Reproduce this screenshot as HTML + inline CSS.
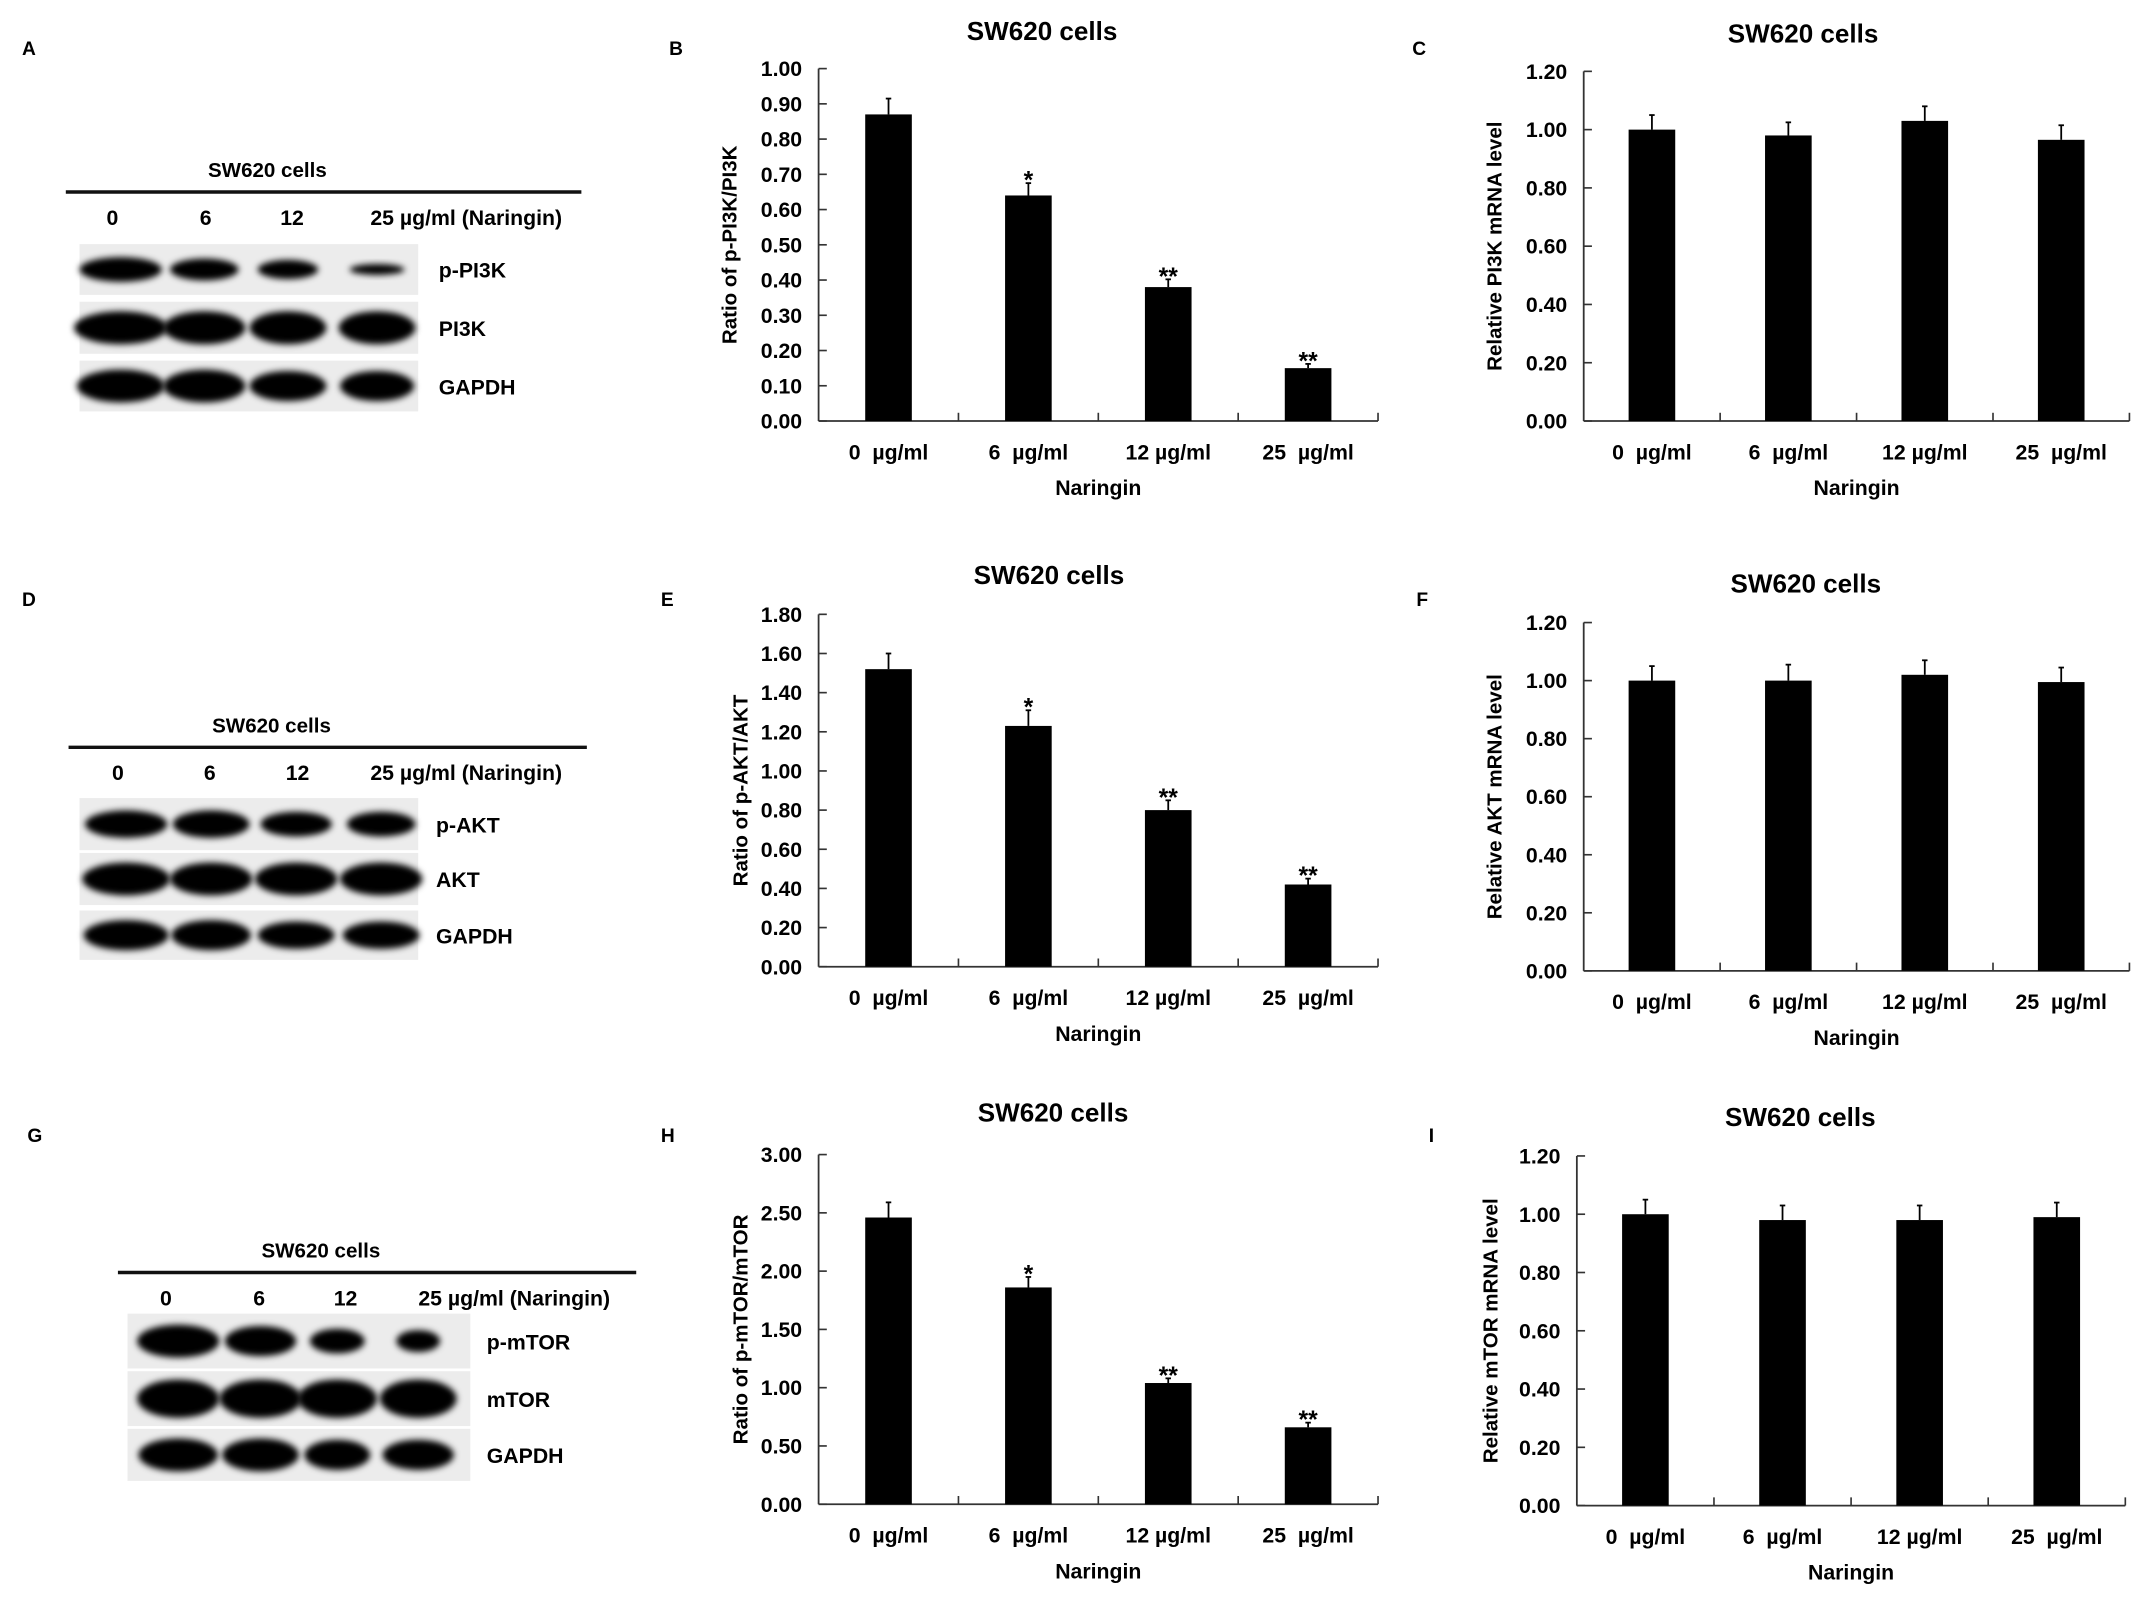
<!DOCTYPE html>
<html><head><meta charset="utf-8"><style>
html,body{margin:0;padding:0;background:#fff;}
svg{display:block;font-family:"Liberation Sans",Arial,sans-serif;font-weight:bold;}
</style></head><body>
<svg id="fig" width="2150" height="1603" viewBox="0 0 1568 1169" xmlns="http://www.w3.org/2000/svg">
<defs><filter id="blur" x="-20%" y="-50%" width="140%" height="200%"><feGaussianBlur stdDeviation="2.4"/></filter></defs>
<g id="blots"></g>
<g id="charts"></g>
</svg>
<script>
const NS='http://www.w3.org/2000/svg';
const fig=document.getElementById('fig');
const categories=['0\u00a0\u00a0µg/ml','6\u00a0\u00a0µg/ml','12 µg/ml','25\u00a0\u00a0µg/ml'];
const valuesB=[0.87,0.64,0.38,0.15], errB=[0.045,0.035,0.022,0.012], sigB=['','*','**','**'];
const valuesC=[1.00,0.98,1.03,0.965], errC=[0.05,0.045,0.05,0.05];
const valuesE=[1.52,1.23,0.80,0.42], errE=[0.08,0.08,0.05,0.03], sigE=['','*','**','**'];
const valuesF=[1.00,1.00,1.02,0.995], errF=[0.05,0.055,0.05,0.05];
const valuesH=[2.46,1.86,1.04,0.66], errH=[0.13,0.09,0.04,0.04], sigH=['','*','**','**'];
const valuesI=[1.00,0.98,0.98,0.99], errI=[0.05,0.05,0.05,0.05];
const ticksB=['0.00','0.10','0.20','0.30','0.40','0.50','0.60','0.70','0.80','0.90','1.00'];
const ticksRel=['0.00','0.20','0.40','0.60','0.80','1.00','1.20'];
const ticksE=['0.00','0.20','0.40','0.60','0.80','1.00','1.20','1.40','1.60','1.80'];
const ticksH=['0.00','0.50','1.00','1.50','2.00','2.50','3.00'];

function el(tag,attrs,parent,text){const e=document.createElementNS(NS,tag);for(const k in attrs)e.setAttribute(k,attrs[k]);if(text!==undefined)e.textContent=text;(parent||fig).appendChild(e);return e;}

function chart(o){
  const g=el('g',{},document.getElementById('charts'));
  
  
  const tmax=parseFloat(o.ticks[o.ticks.length-1]);
  const ys=v=>o.y0-(v/tmax)*(o.y0-o.yTop);
  const w=o.x1-o.x0, cw=w/o.values.length;
  const xs=i=>o.x0+cw*(i+0.5);
  const L=el('text',{x:o.letterX,y:o.letterY,'font-size':14},g,o.letter);
  
  const t=el('text',{x:o.titleX,y:o.titleY,'font-size':19,'text-anchor':'middle'},g,'SW620 cells');
  
  el('line',{x1:o.x0,y1:o.yTop,x2:o.x0,y2:o.y0,stroke:'#333','stroke-width':1.3},g);
  el('line',{x1:o.x0,y1:o.y0,x2:o.x1,y2:o.y0,stroke:'#333','stroke-width':1.3},g);
  o.ticks.forEach(tk=>{const y=ys(parseFloat(tk));
    el('line',{x1:o.x0,y1:y,x2:o.x0+6,y2:y,stroke:'#333','stroke-width':1.2},g);
    const tl=el('text',{x:o.x0-12,y:y+5.5,'font-size':15.5,'text-anchor':'end'},g,tk);
    });
  for(let i=1;i<=o.values.length;i++){const x=o.x0+cw*i;el('line',{x1:x,y1:o.y0,x2:x,y2:o.y0-6,stroke:'#333','stroke-width':1.2},g);}
  o.values.forEach((v,i)=>{const x=xs(i),bw=34;
    const top=ys(v+o.err[i]);
    el('line',{x1:x,y1:ys(v),x2:x,y2:top,stroke:'#000','stroke-width':1.3},g);
    el('line',{x1:x-2,y1:top,x2:x+2,y2:top,stroke:'#000','stroke-width':1.3},g);
    const b=el('rect',{x:x-bw/2,y:ys(v),width:bw,height:o.y0-ys(v),fill:'#000'},g);
    
    if(o.sig&&o.sig[i]){const s=el('text',{x:x,y:top+4,'font-size':18,'text-anchor':'middle'},g,o.sig[i]);
      }
    const xl=el('text',{x:x,y:o.y0+28,'font-size':15.5,'text-anchor':'middle'},g,categories[i]);
    
  });
  const xt=el('text',{x:(o.x0+o.x1)/2,y:o.y0+54,'font-size':15.5,'text-anchor':'middle'},g,'Naringin');
  
  const cy=(o.yTop+o.y0)/2;
  const yt=el('text',{x:o.ylabX,y:cy,'font-size':15,'text-anchor':'middle',transform:`rotate(-90 ${o.ylabX} ${cy})`},g,o.ylab);
  
}
chart({name:'chart-b',letter:'B',letterX:488,letterY:40,titleX:760,titleY:29,x0:597,x1:1005,yTop:50,y0:307,ticks:ticksB,values:valuesB,err:errB,sig:sigB,ylab:'Ratio of p-PI3K/PI3K',ylabX:537});
chart({name:'chart-c',letter:'C',letterX:1030,letterY:40,titleX:1315,titleY:31,x0:1155,x1:1553,yTop:52,y0:307,ticks:ticksRel,values:valuesC,err:errC,ylab:'Relative PI3K mRNA level',ylabX:1095});
chart({name:'chart-e',letter:'E',letterX:482,letterY:442,titleX:765,titleY:426,x0:597,x1:1005,yTop:448,y0:705,ticks:ticksE,values:valuesE,err:errE,sig:sigE,ylab:'Ratio of p-AKT/AKT',ylabX:545});
chart({name:'chart-f',letter:'F',letterX:1033,letterY:442,titleX:1317,titleY:432,x0:1155,x1:1553,yTop:454,y0:708,ticks:ticksRel,values:valuesF,err:errF,ylab:'Relative AKT mRNA level',ylabX:1095});
chart({name:'chart-h',letter:'H',letterX:482,letterY:833,titleX:768,titleY:818,x0:597,x1:1005,yTop:842,y0:1097,ticks:ticksH,values:valuesH,err:errH,sig:sigH,ylab:'Ratio of p-mTOR/mTOR',ylabX:545});
chart({name:'chart-i',letter:'I',letterX:1042,letterY:833,titleX:1313,titleY:821,x0:1150,x1:1550,yTop:843,y0:1098,ticks:ticksRel,values:valuesI,err:errI,ylab:'Relative mTOR mRNA level',ylabX:1092});

// Western blots
const bandWidthsA=[[30,25,22,20],[34,30,28,28],[32,30,28,27]];
const bandHeightsA=[[9,8,7,4],[12,12,12,12],[12,12,11,11]];
function blot(o){
  const g=el('g',{},document.getElementById('blots'));
  
  
  const L=el('text',{x:o.letterX,y:o.letterY,'font-size':14},g,o.letter);
  
  el('text',{x:o.headX,y:o.headY,'font-size':15,'text-anchor':'middle'},g,'SW620 cells');
  el('line',{x1:o.lineX0,y1:o.lineY,x2:o.lineX1,y2:o.lineY,stroke:'#111','stroke-width':2.5},g);
  o.laneLabels.forEach((t,i)=>el('text',{x:o.laneX[i],y:o.lineY+24,'font-size':15.5,'text-anchor':'middle'},g,t));
  o.rows.forEach((r,ri)=>{
    el('rect',{x:o.bx0,y:r[0],width:o.bx1-o.bx0,height:r[1]-r[0],fill:'#ececec'},g);
    const cy=(r[0]+r[1])/2;
    o.bandX.forEach((bx,i)=>{
      el('ellipse',{cx:bx,cy:cy,rx:o.bw[ri][i],ry:o.bh[ri][i],fill:'#000',filter:'url(#blur)'},g);
    });
    const lab=el('text',{x:o.labX,y:cy+6,'font-size':15.5},g,o.labels[ri]);
    
  });
}
blot({name:'blot-a',letter:'A',letterX:16,letterY:40,headX:195,headY:129,lineX0:48,lineX1:424,lineY:140,
  laneLabels:['0','6','12','25 µg/ml (Naringin)'],laneX:[82,150,213,340],bx0:58,bx1:305,
  rows:[[178,215],[220,258],[263,300]],bandX:[88,149,210,275],bw:bandWidthsA,bh:bandHeightsA,
  labels:['p-PI3K','PI3K','GAPDH'],labX:320});
blot({name:'blot-d',letter:'D',letterX:16,letterY:442,headX:198,headY:534,lineX0:50,lineX1:428,lineY:545,
  laneLabels:['0','6','12','25 µg/ml (Naringin)'],laneX:[86,153,217,340],bx0:58,bx1:305,
  rows:[[582,620],[622,660],[664,700]],bandX:[92,154,216,278],
  bw:[[30,28,26,25],[32,30,30,30],[31,29,28,28]],bh:[[10,10,9,9],[12,12,12,12],[11,11,10,10]],
  labels:['p-AKT','AKT','GAPDH'],labX:318});
blot({name:'blot-g',letter:'G',letterX:20,letterY:833,headX:234,headY:917,lineX0:86,lineX1:464,lineY:928,
  laneLabels:['0','6','12','25 µg/ml (Naringin)'],laneX:[121,189,252,375],bx0:93,bx1:343,
  rows:[[958,998],[1000,1040],[1042,1080]],bandX:[130,190,246,305],
  bw:[[30,26,20,16],[30,30,29,28],[29,28,24,26]],bh:[[12,11,9,8],[14,14,14,14],[12,12,11,11]],
  labels:['p-mTOR','mTOR','GAPDH'],labX:355});
</script>
</body></html>
